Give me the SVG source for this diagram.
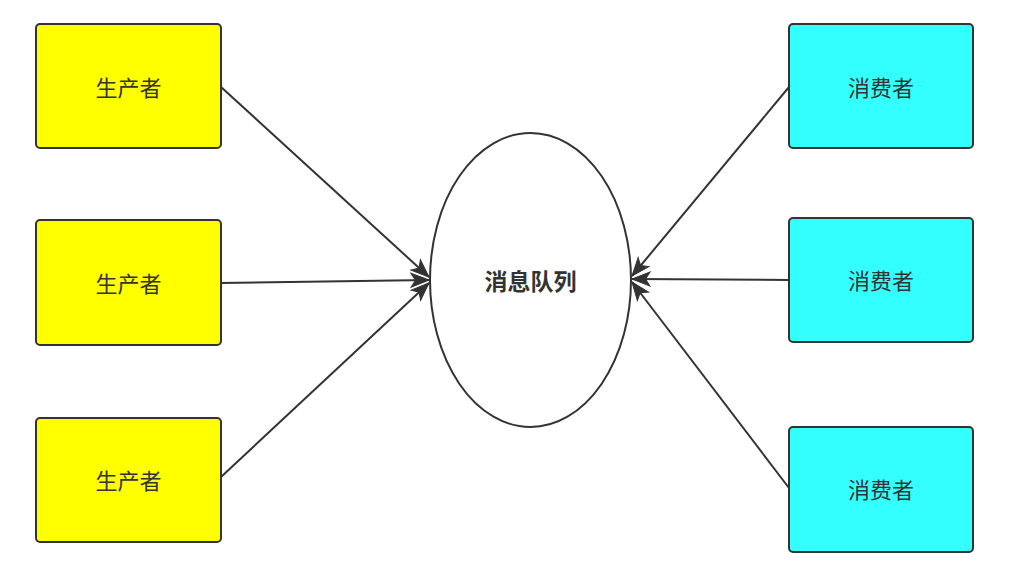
<svg xmlns="http://www.w3.org/2000/svg" width="1024" height="565" viewBox="0 0 1024 565">
<style>
.p{fill:#ffff00;stroke:#333333;stroke-width:2}
.c{fill:#33ffff;stroke:#333333;stroke-width:2}
.t{font-family:"Noto Sans CJK SC","Noto Sans",sans-serif;font-size:22px;fill:#333333;text-anchor:middle;dominant-baseline:central}
.e{fill:#ffffff;stroke:#333333;stroke-width:2}
.tb{font-family:"Noto Sans CJK SC","Noto Sans",sans-serif;font-size:23px;font-weight:bold;fill:#333333;text-anchor:middle;dominant-baseline:central}
.l{stroke:#333333;stroke-width:2;fill:none;marker-end:url(#arr)}
</style>
<defs>
<marker id="arr" markerUnits="userSpaceOnUse" markerWidth="22" markerHeight="18" viewBox="0 0 22 18" refX="20" refY="9" orient="auto">
<path d="M2,2 L20,9 L2,16 L6.5,9 Z" fill="#333333" stroke="#333333" stroke-width="1"/>
</marker>
</defs>
<rect width="1024" height="565" fill="#ffffff"/>
<g id="connectors">
<line class="l" x1="221" y1="87" x2="429" y2="277"/>
<line class="l" x1="221" y1="283" x2="429" y2="280"/>
<line class="l" x1="221" y1="477" x2="429" y2="283"/>
<line class="l" x1="789" y1="87" x2="632" y2="276"/>
<line class="l" x1="789" y1="280" x2="632" y2="279"/>
<line class="l" x1="789" y1="488" x2="632" y2="282"/>
</g>
<g id="queue">
<ellipse class="e" cx="530.5" cy="280" rx="100.5" ry="147"/>
<text class="tb" x="530.5" y="280">消息队列</text>
</g>
<g id="producer1">
<rect class="p" x="36" y="24" width="185" height="124" rx="4"/>
<text class="t" x="128.5" y="86">生产者</text>
</g>
<g id="producer2">
<rect class="p" x="36" y="220" width="185" height="125" rx="4"/>
<text class="t" x="128.5" y="282">生产者</text>
</g>
<g id="producer3">
<rect class="p" x="36" y="418" width="185" height="124" rx="4"/>
<text class="t" x="128.5" y="479">生产者</text>
</g>
<g id="consumer1">
<rect class="c" x="789" y="24" width="184" height="124" rx="4"/>
<text class="t" x="881" y="86">消费者</text>
</g>
<g id="consumer2">
<rect class="c" x="789" y="218" width="184" height="124" rx="4"/>
<text class="t" x="881" y="279">消费者</text>
</g>
<g id="consumer3">
<rect class="c" x="789" y="427" width="184" height="125" rx="4"/>
<text class="t" x="881" y="488">消费者</text>
</g>
</svg>
